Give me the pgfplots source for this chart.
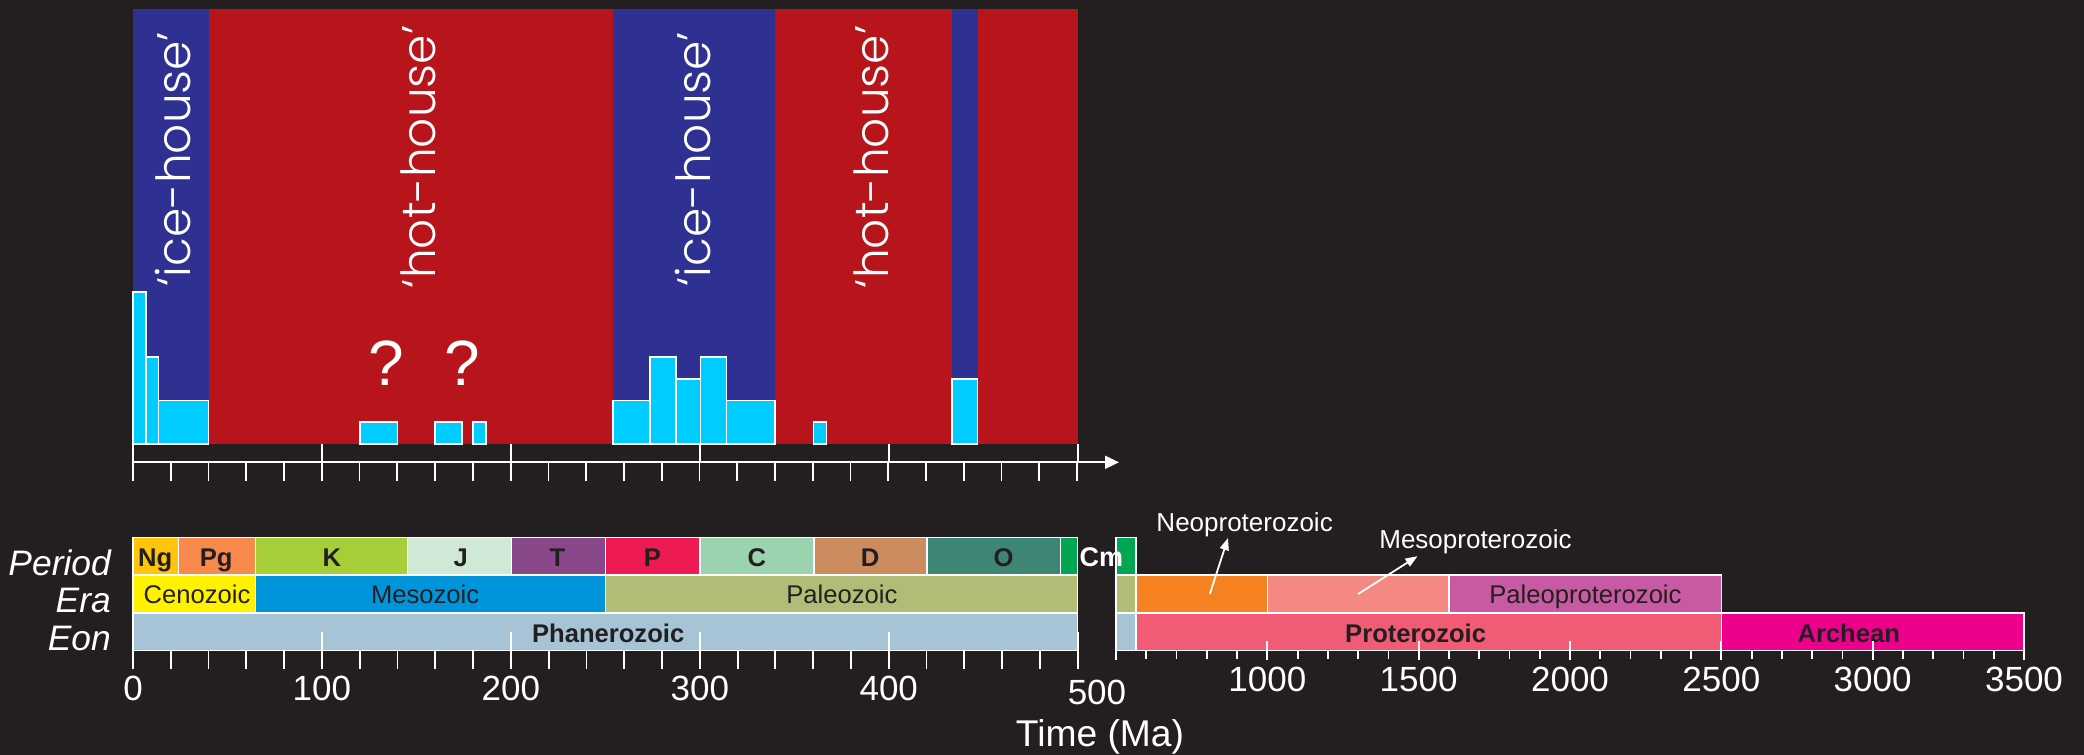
\documentclass[border=0pt]{standalone}
\usepackage{fontspec}
\setmainfont{Liberation Sans}
\newfontfamily\gothic{Poppins Light}
\usepackage{pgfplots}
\pgfplotsset{compat=1.18}
\usetikzlibrary{arrows.meta}

\definecolor{bg}{HTML}{231F20}
\definecolor{hotred}{HTML}{B8141B}
\definecolor{iceblue}{HTML}{2E3192}
\definecolor{barcyan}{HTML}{00CCFF}
\definecolor{cNg}{HTML}{FFC40C}
\definecolor{cPg}{HTML}{F6894B}
\definecolor{cK}{HTML}{A6CE39}
\definecolor{cJ}{HTML}{D0E8D6}
\definecolor{cT}{HTML}{884889}
\definecolor{cP}{HTML}{EE1B53}
\definecolor{cC}{HTML}{9BD3AE}
\definecolor{cD}{HTML}{CD8C60}
\definecolor{cO}{HTML}{3D8575}
\definecolor{cCm}{HTML}{00A650}
\definecolor{cCeno}{HTML}{FFF200}
\definecolor{cMeso}{HTML}{0095DA}
\definecolor{cPaleo}{HTML}{AFBD76}
\definecolor{cPhan}{HTML}{A6C4D5}
\definecolor{cNeoP}{HTML}{F68121}
\definecolor{cMesoP}{HTML}{F58883}
\definecolor{cPaleoP}{HTML}{C75AA2}
\definecolor{cProt}{HTML}{F15B75}
\definecolor{cArch}{HTML}{EC008C}

% timescale box: x0, x1, y0, y1, colour
\newcommand{\tbox}[5]{\addplot[fill=#5, draw=white, line width=0.75pt] coordinates {(#1,#3) (#2,#3) (#2,#4) (#1,#4)} -- cycle;}
% climate band: x0, x1, colour
\newcommand{\band}[3]{\addplot[fill=#3, draw=none] coordinates {(#1,0) (#2,0) (#2,20) (#1,20)} -- cycle;}

\newcommand{\boxfont}{\fontsize{12.8}{15}\selectfont}
\newcommand{\housefont}{\gothic\fontsize{23.5}{28}\selectfont}

\begin{document}
\begin{tikzpicture}
\fill[bg] (0,0) rectangle (1042pt,377.5pt);

% ---------- top panel ----------
\begin{axis}[
  at={(66.5pt,155.5pt)}, anchor=south west,
  width=472.35pt, height=217.5pt, scale only axis,
  xmin=0, xmax=500, ymin=0, ymax=20,
  clip=false,
  axis line style={draw=none},
  xtick={0,100,...,500}, xticklabels={}, xtick pos=left, tick align=outside,
  major tick length=9pt, ytick=\empty,
  tick style={white, line width=0.9pt},
]
\band{0}{500}{hotred}
\band{0}{40}{iceblue}
\band{254}{340}{iceblue}
\band{433.5}{447}{iceblue}

\addplot[ybar interval, fill=barcyan, draw=white, line width=0.9pt] coordinates {(0,7) (7,4) (13.5,2) (40,0)};
\addplot[ybar interval, fill=barcyan, draw=white, line width=0.9pt] coordinates {(120,1) (140,0)};
\addplot[ybar interval, fill=barcyan, draw=white, line width=0.9pt] coordinates {(160,1) (174,0)};
\addplot[ybar interval, fill=barcyan, draw=white, line width=0.9pt] coordinates {(180,1) (187,0)};
\addplot[ybar interval, fill=barcyan, draw=white, line width=0.9pt] coordinates {(254,2) (273.7,4) (287.3,3) (300.4,4) (314.1,2) (340,0)};
\addplot[ybar interval, fill=barcyan, draw=white, line width=0.9pt] coordinates {(360.2,1) (367.1,0)};
\addplot[ybar interval, fill=barcyan, draw=white, line width=0.9pt] coordinates {(433.5,3) (447,0)};

\node[rotate=90, white, font=\housefont] at (axis cs:21.2,13.1) {‘ice-house’};
\node[rotate=90, white, font=\housefont] at (axis cs:151,13.2) {‘hot-house’};
\node[rotate=90, white, font=\housefont] at (axis cs:296.2,13.1) {‘ice-house’};
\node[rotate=90, white, font=\housefont] at (axis cs:390.9,13.2) {‘hot-house’};
\node[white, font=\fontsize{32}{36}\selectfont] at (axis cs:134.2,3.72) {?};
\node[white, font=\fontsize{32}{36}\selectfont] at (axis cs:174.2,3.72) {?};
\end{axis}

% ---------- arrow axis ----------
\begin{axis}[
  at={(66.5pt,146.35pt)}, anchor=south west,
  width=493pt, height=5pt, scale only axis,
  xmin=0, xmax=522.2, ymin=0, ymax=1,
  axis x line=bottom, axis y line=none,
  x axis line style={white, line width=0.9pt, -{Triangle[length=7pt,width=6.5pt]}},
  xtick={0,20,...,500}, xticklabels={}, tick align=outside,
  major tick length=9.5pt,
  tick style={white, line width=0.9pt},
]
\end{axis}

% ---------- time scale, 0-500 Ma ----------
\begin{axis}[
  at={(66.5pt,52.15pt)}, anchor=south west,
  width=472.35pt, height=56.7pt, scale only axis,
  xmin=0, xmax=500, ymin=0, ymax=3,
  clip=false, axis on top,
  axis line style={draw=none},
  xtick={0,100,...,500}, xticklabels={0,100,200,300,400,{}},
  xtick pos=left, tick align=center, major tick length=18.5pt,
  extra x ticks={0,20,...,500}, extra x tick labels={},
  extra x tick style={tick align=outside, major tick length=9.25pt},
  ytick=\empty,
  tick style={white, line width=0.9pt},
  xticklabel style={white, font=\fontsize{17.5}{20}\selectfont},
]
% Eon
\tbox{0}{500}{0}{1}{cPhan}
% Era
\tbox{0}{64.8}{1}{2}{cCeno}
\tbox{64.8}{250.1}{1}{2}{cMeso}
\tbox{250.1}{500}{1}{2}{cPaleo}
% Period
\tbox{0}{24}{2}{3}{cNg}
\tbox{24}{64.8}{2}{3}{cPg}
\tbox{64.8}{145.4}{2}{3}{cK}
\tbox{145.4}{200.2}{2}{3}{cJ}
\tbox{200.2}{250.1}{2}{3}{cT}
\tbox{250.1}{300}{2}{3}{cP}
\tbox{300}{360.4}{2}{3}{cC}
\tbox{360.4}{420.2}{2}{3}{cD}
\tbox{420.2}{491}{2}{3}{cO}
\tbox{491}{500}{2}{3}{cCm}

\begin{scope}[every node/.style={anchor=base, text=bg, font=\bfseries\boxfont}]
\node at (axis cs:11.8,2.22) {Ng};
\node at (axis cs:44,2.22) {Pg};
\node at (axis cs:105.2,2.22) {K};
\node at (axis cs:173.5,2.22) {J};
\node at (axis cs:224.6,2.22) {T};
\node at (axis cs:274.9,2.22) {P};
\node at (axis cs:330.2,2.22) {C};
\node at (axis cs:390.2,2.22) {D};
\node at (axis cs:460.8,2.22) {O};
\node at (axis cs:251.5,0.21) {Phanerozoic};
\end{scope}
\begin{scope}[every node/.style={anchor=base, text=bg, font=\boxfont}]
\node at (axis cs:33.9,1.25) {Cenozoic};
\node at (axis cs:154.6,1.25) {Mesozoic};
\node at (axis cs:375.2,1.25) {Paleozoic};
\end{scope}
\node[anchor=base, white, font=\fontsize{17.5}{20}\selectfont] at (axis cs:510.2,-1.423) {500};

\begin{scope}[every node/.style={anchor=base east, white, font=\itshape\fontsize{17.7}{20}\selectfont}]
\node at (axis cs:-8,2) {Period};
\node at (axis cs:-8,1) {Era};
\node at (axis cs:-8,0) {Eon};
\end{scope}
\end{axis}

% ---------- time scale, 500-3500 Ma ----------
\begin{axis}[
  at={(558pt,52.15pt)}, anchor=south west,
  width=454pt, height=56.7pt, scale only axis,
  xmin=500, xmax=3500, ymin=0, ymax=3,
  clip=false, axis on top,
  axis line style={draw=none},
  xtick={500,1000,...,3500}, xticklabels={{},1000,1500,2000,2500,3000,3500},
  xtick pos=left, tick align=center, major tick length=9.5pt,
  extra x ticks={500,600,...,3500}, extra x tick labels={},
  extra x tick style={tick align=outside, major tick length=4pt},
  ytick=\empty,
  tick style={white, line width=0.9pt},
  xticklabel style={white, font=\fontsize{17.5}{20}\selectfont},
]
\tbox{500}{566}{0}{1}{cPhan}
\tbox{566}{2500}{0}{1}{cProt}
\tbox{2500}{3500}{0}{1}{cArch}
\tbox{500}{566}{1}{2}{cPaleo}
\tbox{566}{1000}{1}{2}{cNeoP}
\tbox{1000}{1600}{1}{2}{cMesoP}
\tbox{1600}{2500}{1}{2}{cPaleoP}
\tbox{500}{566}{2}{3}{cCm}

\node[anchor=base, white, font=\bfseries\fontsize{13.5}{15}\selectfont] at (axis cs:451.4,2.24) {Cm};

\node[anchor=base, text=bg, font=\bfseries\boxfont] at (axis cs:1490,0.21) {Proterozoic};
\node[anchor=base, text=bg, font=\bfseries\boxfont] at (axis cs:2921,0.21) {Archean};
\node[anchor=base, text=bg, font=\boxfont] at (axis cs:2051,1.25) {Paleoproterozoic};

\node[anchor=base, white, font=\fontsize{13}{15}\selectfont] at (axis cs:925,3.148) {Neoproterozoic};
\node[anchor=base, white, font=\fontsize{13}{15}\selectfont] at (axis cs:1687.6,2.70) {Mesoproterozoic};
\draw[white, line width=0.9pt, -{Triangle[length=6pt,width=4.5pt]}] (axis cs:810,1.5) -- (axis cs:870,2.98);
\draw[white, line width=0.9pt, -{Triangle[length=6pt,width=4.5pt]}] (axis cs:1300,1.5) -- (axis cs:1496,2.5);
\end{axis}

\node[anchor=base, inner sep=0pt, white, font=\fontsize{18.6}{22}\selectfont] at (550pt,4.15pt) {Time (Ma)};
\end{tikzpicture}
\end{document}
